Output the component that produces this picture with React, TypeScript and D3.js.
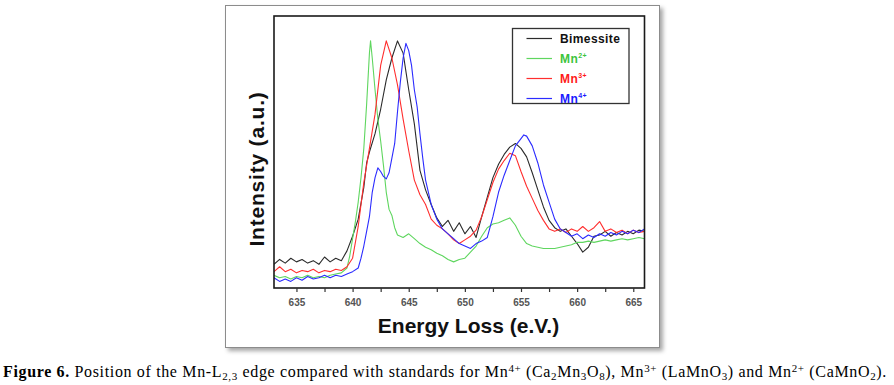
import React, { useEffect, useRef } from "react";
import * as d3 from "d3";

// [energy loss (eV), intensity (a.u., main peak = 100)]
const bimessite: [number, number][] = [
  [633, 8.5], [633.5, 10.5], [634, 9], [634.5, 11], [635, 9.5], [635.5, 10.5], [636, 9], [636.5, 10],
  [637, 8.5], [637.5, 11.5], [638, 9.5], [638.5, 11], [639, 10], [639.5, 14], [640, 20], [640.5, 27],
  [641, 40], [641.25, 50], [641.5, 54.5], [642, 62], [642.5, 72], [643, 84], [643.5, 93], [644, 100],
  [644.5, 95], [645, 80], [645.5, 66], [646, 47], [646.5, 39], [647, 33], [647.5, 27.5], [648, 24],
  [648.5, 26.5], [649, 22], [649.5, 25.5], [650, 21], [650.5, 24], [651, 19.5], [651.5, 28], [652, 36],
  [652.5, 44], [653, 49.5], [653.5, 53.5], [654, 56.5], [654.5, 58], [655, 56], [655.5, 52.5], [656, 46],
  [656.5, 39], [657, 32], [657.5, 26.5], [658, 23.5], [658.5, 22], [659, 23], [659.5, 20], [660, 17],
  [660.5, 13.5], [661, 15.5], [661.5, 20], [662, 20.5], [662.5, 22], [663, 20], [663.5, 21.5], [664, 20.5],
  [664.5, 22], [665, 21], [665.5, 22.5], [666, 22],
];

const mn2: [number, number][] = [
  [633, 4], [633.5, 3], [634, 3.5], [634.5, 2.5], [635, 3.5], [635.5, 3], [636, 4], [636.5, 3],
  [637, 3.5], [637.5, 3], [638, 4], [638.5, 4.5], [639, 5], [639.5, 7], [639.75, 12], [640, 19],
  [640.25, 26], [640.5, 34], [640.75, 44], [641, 56], [641.25, 74], [641.5, 95], [641.6, 100], [641.75, 93],
  [642, 80], [642.25, 68], [642.5, 59], [642.75, 49], [643, 38], [643.25, 31], [643.5, 28.5], [643.75, 23.5],
  [644, 20.5], [644.5, 19.5], [645, 21], [645.5, 19], [646, 17], [646.5, 15.5], [647, 14.5], [647.5, 13],
  [648, 12], [648.5, 10.5], [649, 9.5], [649.5, 10.5], [650, 11], [650.5, 13.5], [651, 16], [651.5, 20],
  [652, 23.5], [652.5, 25], [653, 25.5], [653.5, 26.5], [654, 27.5], [654.5, 24.5], [655, 20], [655.5, 17],
  [656, 16], [656.5, 15.5], [657, 15], [657.5, 15], [658, 15], [658.5, 15.5], [659, 16], [659.5, 16.5],
  [660, 17.5], [660.5, 17.5], [661, 18], [661.5, 17.5], [662, 18], [662.5, 18.5], [663, 18], [663.5, 18.5],
  [664, 19], [664.5, 18.5], [665, 19], [665.5, 19.5], [666, 19],
];

const mn3: [number, number][] = [
  [633, 5.5], [633.5, 7.5], [634, 5.5], [634.5, 6.5], [635, 5], [635.5, 6], [636, 5.5], [636.5, 6.5],
  [637, 5], [637.5, 6], [638, 5.5], [638.5, 6.5], [639, 6], [639.5, 7.5], [640, 11], [640.5, 24],
  [641, 42], [641.5, 56], [642, 70], [642.5, 90], [643, 100], [643.5, 93], [644, 82], [644.5, 68],
  [645, 55], [645.5, 43], [646, 37], [646.5, 33], [647, 27], [647.5, 24.5], [648, 23], [648.5, 21],
  [649, 18.5], [649.5, 17], [650, 18.5], [650.5, 20], [651, 22.5], [651.5, 28], [652, 35], [652.5, 42],
  [653, 47.5], [653.5, 51], [654, 54], [654.5, 53], [655, 46.5], [655.5, 40.5], [656, 35.5], [656.5, 30.5],
  [657, 26.5], [657.5, 23], [658, 22], [658.5, 23], [659, 21.5], [659.5, 23], [660, 22], [660.5, 24],
  [661, 22], [661.5, 23.5], [662, 26], [662.5, 22], [663, 23], [663.5, 21.5], [664, 22.5], [664.5, 21],
  [665, 22.5], [665.5, 21.5], [666, 22],
];

const mn4: [number, number][] = [
  [633, 3], [633.5, 1.5], [634, 2.5], [634.5, 1.5], [635, 3], [635.5, 2], [636, 3.5], [636.5, 2.5],
  [637, 3], [637.5, 4], [638, 3], [638.5, 4], [639, 3.5], [639.5, 4.5], [640, 5.5], [640.5, 7],
  [640.75, 11], [641, 16], [641.25, 22], [641.5, 28], [641.75, 38], [642, 44], [642.25, 48], [642.5, 46.5],
  [642.75, 44.5], [643, 43.5], [643.25, 46], [643.5, 52], [643.75, 58], [644, 71], [644.25, 83], [644.5, 93],
  [644.75, 99], [645, 96], [645.25, 90], [645.5, 80], [645.75, 73], [646, 62], [646.25, 52], [646.5, 43],
  [647, 33], [647.5, 27], [648, 23], [648.5, 21], [649, 19], [649.5, 17], [650, 16], [650.5, 15],
  [651, 17], [651.5, 18], [652, 19.5], [652.5, 28], [653, 38], [653.5, 45], [654, 51], [654.5, 57],
  [655, 60], [655.25, 61.5], [655.5, 61], [656, 57], [656.5, 50], [657, 41], [657.5, 34], [658, 27],
  [658.5, 23], [659, 21.5], [659.5, 20], [660, 21], [660.5, 19], [661, 20.5], [661.5, 19.5], [662, 21],
  [662.5, 20], [663, 21.5], [663.5, 20.5], [664, 22], [664.5, 21], [665, 22.5], [665.5, 21.5], [666, 23],
];

const xTicks = [635, 640, 645, 650, 655, 660, 665];

const series = [
  { name: "Bimessite", sup: "", data: bimessite, color: "#2b2b2b", text: "#111" },
  { name: "Mn", sup: "2+", data: mn2, color: "#5fd65f", text: "#3cc43c" },
  { name: "Mn", sup: "3+", data: mn3, color: "#ff2e2e", text: "#ff1a1a" },
  { name: "Mn", sup: "4+", data: mn4, color: "#2b2bff", text: "#1a1aff" },
];

export default function App() {
  const ref = useRef<HTMLDivElement | null>(null);

  useEffect(() => {
    if (!ref.current) return;
    d3.select(ref.current).selectAll("svg").remove();

    const W = 894;
    const H = 385;
    const left = 274,
      right = 644.5,
      top = 16,
      bottom = 288;

    const svg = d3
      .select(ref.current)
      .append("svg")
      .attr("width", W)
      .attr("height", H)
      .style("position", "absolute")
      .style("left", 0)
      .style("top", 0)
      .style("background", "#fff");

    // drop shadow for the figure panel
    const defs = svg.append("defs");
    const f = defs.append("filter").attr("id", "shadow").attr("x", "-5%").attr("y", "-5%").attr("width", "112%").attr("height", "112%");
    f.append("feDropShadow").attr("dx", 3).attr("dy", 3).attr("stdDeviation", 2).attr("flood-color", "#000").attr("flood-opacity", 0.35);

    svg
      .append("rect")
      .attr("x", 225.5)
      .attr("y", 5.5)
      .attr("width", 434)
      .attr("height", 342)
      .attr("fill", "#fff")
      .attr("stroke", "#8c8c8c")
      .attr("filter", "url(#shadow)");

    const x = d3.scaleLinear([633, 666], [left, right]);
    const y = d3.scaleLinear([-1.2, 110.2], [bottom, top]);

    const clip = defs.append("clipPath").attr("id", "plotclip");
    clip.append("rect").attr("x", left).attr("y", top).attr("width", right - left).attr("height", bottom - top);

    const line = d3
      .line<[number, number]>()
      .x((d) => x(d[0]))
      .y((d) => y(d[1]));

    svg
      .append("g")
      .attr("clip-path", "url(#plotclip)")
      .selectAll("path")
      .data(series)
      .enter()
      .append("path")
      .attr("d", (d) => line(d.data))
      .attr("fill", "none")
      .attr("stroke", (d) => d.color)
      .attr("stroke-width", 1.1)
      .attr("stroke-linejoin", "round");

    // plot frame
    svg
      .append("rect")
      .attr("x", left)
      .attr("y", top)
      .attr("width", right - left)
      .attr("height", bottom - top)
      .attr("fill", "none")
      .attr("stroke", "#1a1a1a")
      .attr("stroke-width", 1.6);

    // bottom axis: majors labelled, minors between
    const xAxis = d3
      .axisBottom(x)
      .tickValues(d3.range(635, 666, 2.5))
      .tickSize(4)
      .tickFormat((d) => (xTicks.includes(+d) ? String(d) : ""));
    const ax = svg.append("g").attr("transform", `translate(0,${bottom})`).call(xAxis);
    ax.select(".domain").remove();
    ax.selectAll("line").attr("stroke", "#333").attr("stroke-width", 1.2);
    ax.selectAll("text")
      .attr("fill", "#555")
      .attr("font-family", "Liberation Sans, Arial, sans-serif")
      .attr("font-weight", "bold")
      .attr("font-size", 10)
      .attr("dy", "1.05em");

    // axis titles
    svg
      .append("text")
      .attr("x", 468.5)
      .attr("y", 333)
      .attr("text-anchor", "middle")
      .attr("font-family", "Liberation Sans, Arial, sans-serif")
      .attr("font-weight", "bold")
      .attr("font-size", 21)
      .attr("fill", "#111")
      .text("Energy Loss (e.V.)");

    svg
      .append("text")
      .attr("transform", "translate(263.5,169) rotate(-90)")
      .attr("text-anchor", "middle")
      .attr("font-family", "Liberation Sans, Arial, sans-serif")
      .attr("font-weight", "bold")
      .attr("font-size", 21)
      .attr("letter-spacing", 0.8)
      .attr("fill", "#111")
      .text("Intensity (a.u.)");

    // legend
    const lg = svg.append("g");
    lg.append("rect")
      .attr("x", 512.5)
      .attr("y", 28.5)
      .attr("width", 116.5)
      .attr("height", 75)
      .attr("fill", "#fff")
      .attr("stroke", "#333")
      .attr("stroke-width", 1.3);
    series.forEach((s, i) => {
      const yy = 38.5 + i * 20;
      lg.append("line")
        .attr("x1", 526.5)
        .attr("x2", 552)
        .attr("y1", yy)
        .attr("y2", yy)
        .attr("stroke", s.color)
        .attr("stroke-width", 1.2);
      const t = lg
        .append("text")
        .attr("x", 560)
        .attr("y", yy + 4.5)
        .attr("font-family", "Liberation Sans, Arial, sans-serif")
        .attr("font-weight", "bold")
        .attr("font-size", 12)
        .attr("letter-spacing", 0.4)
        .attr("fill", s.text);
      t.append("tspan").text(s.name);
      if (s.sup) t.append("tspan").attr("dy", -5).attr("font-size", 7).text(s.sup);
    });

    // caption
    const cap = svg
      .append("text")
      .attr("x", 3)
      .attr("y", 377)
      .attr("font-family", "Liberation Serif, Times New Roman, serif")
      .attr("font-size", 16)
      .attr("letter-spacing", 0.65)
      .attr("fill", "#000");
    const parts: [string, string][] = [
      ["b", "Figure 6."],
      ["n", " Position of the Mn-L"],
      ["sub", "2,3"],
      ["n", " edge compared with standards for Mn"],
      ["sup", "4+"],
      ["n", " (Ca"],
      ["sub", "2"],
      ["n", "Mn"],
      ["sub", "3"],
      ["n", "O"],
      ["sub", "8"],
      ["n", "), Mn"],
      ["sup", "3+"],
      ["n", " (LaMnO"],
      ["sub", "3"],
      ["n", ") and Mn"],
      ["sup", "2+"],
      ["n", " (CaMnO"],
      ["sub", "2"],
      ["n", ")."],
    ];
    let shift = 0;
    parts.forEach(([kind, str]) => {
      const target = kind === "sub" ? 3 : kind === "sup" ? -5.5 : 0;
      const ts = cap.append("tspan").attr("dy", target - shift).text(str);
      shift = target;
      if (kind === "b") ts.attr("font-weight", "bold");
      if (kind === "sub" || kind === "sup") ts.attr("font-size", 11);
    });
  });

  return <div ref={ref}></div>;
}
